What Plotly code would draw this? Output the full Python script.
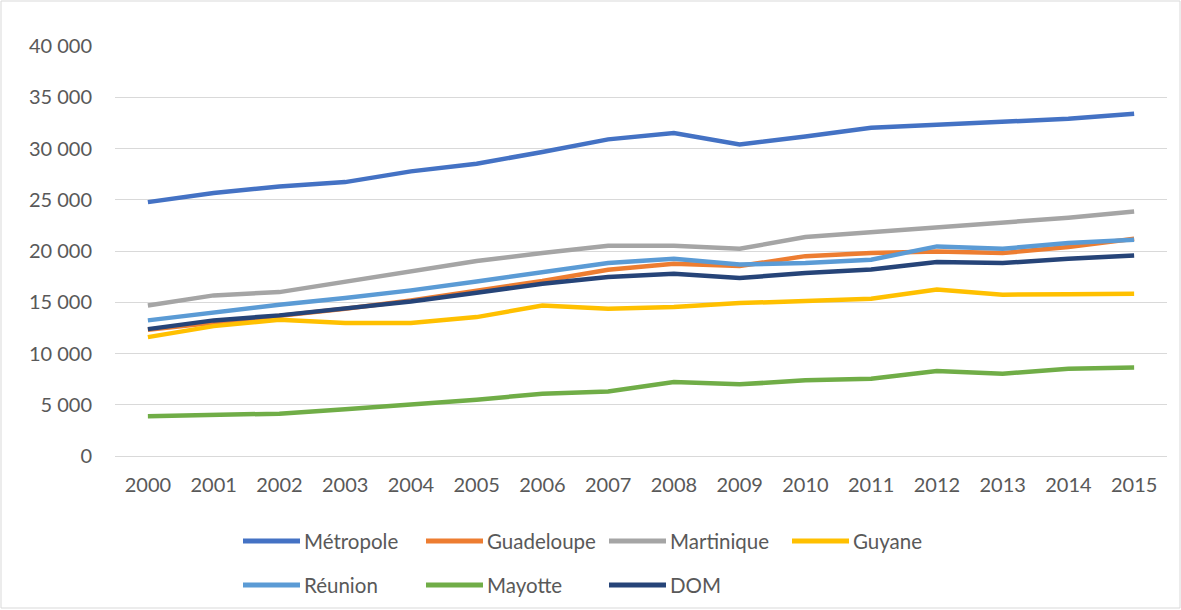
import plotly.graph_objects as go

# Annual series, 2000-2015
years = [str(y) for y in range(2000, 2016)]

metropole = [24770, 25650, 26300, 26720, 27770, 28520, 29650, 30890,
             31500, 30400, 31180, 32030, 32320, 32580, 32900, 33390]
guadeloupe = [12320, 13000, 13720, 14370, 15180, 16160, 17070, 18180,
              18760, 18530, 19500, 19800, 19960, 19800, 20380, 21200]
martinique = [14690, 15670, 15990, 16970, 18010, 19020, 19800, 20510,
              20510, 20220, 21360, 21850, 22240, 22720, 23250, 23860]
guyane = [11600, 12670, 13300, 12970, 12970, 13550, 14690, 14370,
          14530, 14920, 15110, 15350, 16250, 15740, 15770, 15830]
reunion = [13230, 14040, 14760, 15410, 16160, 17030, 17880, 18820,
           19250, 18690, 18820, 19150, 20450, 20220, 20770, 21100]
mayotte = [3890, 4030, 4130, 4550, 5030, 5490, 6080, 6300,
           7210, 6990, 7380, 7540, 8290, 8030, 8520, 8640]
dom = [12380, 13230, 13720, 14370, 15080, 15930, 16810, 17460,
       17780, 17360, 17850, 18200, 18920, 18820, 19250, 19570]

series_names = ["Métropole", "Guadeloupe", "Martinique", "Guyane",
                "Réunion", "Mayotte", "DOM"]
series_values = [metropole, guadeloupe, martinique, guyane,
                 reunion, mayotte, dom]
colors = ["#4472C4", "#ED7D31", "#A5A5A5", "#FFC000",
          "#5B9BD5", "#70AD47", "#264478"]

W, H = 1181, 610
M_L, M_R, M_T, M_B = 115, 14, 46, 154
TEXT = "#595959"
GRID = "#D9D9D9"
FONT = "Lato"
TICK_SIZE = 20
LEGEND_SIZE = 20.5

fig = go.Figure()
for name, vals, col in zip(series_names, series_values, colors):
    fig.add_trace(go.Scatter(
        x=years, y=vals, name=name, mode="lines",
        line=dict(color=col, width=4.5),
        showlegend=False,
    ))

# Legend drawn as short line swatches with labels, two rows of four columns
shapes = []
annotations = []
plot_w = W - M_L - M_R
plot_h = H - M_T - M_B


def px(v):
    return (v - M_L) / plot_w


def py(v):
    return (H - M_B - v) / plot_h


col_x = [243, 426, 609, 792]
row_y = [541, 585]
for k, (name, col) in enumerate(zip(series_names, colors)):
    r, c = divmod(k, 4)
    x0 = col_x[c]
    y = row_y[r]
    shapes.append(dict(type="line", xref="paper", yref="paper",
                       x0=px(x0), x1=px(x0 + 57), y0=py(y), y1=py(y),
                       line=dict(color=col, width=5)))
    annotations.append(dict(xref="paper", yref="paper", x=px(x0 + 59), y=py(y),
                            xanchor="left", yanchor="middle", showarrow=False,
                            text=name,
                            font=dict(family=FONT, size=LEGEND_SIZE, color=TEXT)))

# Chart area border
shapes.append(dict(type="rect", xref="paper", yref="paper",
                   x0=px(1), x1=px(W - 1), y0=py(H - 2), y1=py(1),
                   line=dict(color=GRID, width=1), layer="below"))

fig.update_layout(
    width=W, height=H,
    margin=dict(l=M_L, r=M_R, t=M_T, b=M_B),
    paper_bgcolor="white", plot_bgcolor="white",
    separators=", ",
    font=dict(family=FONT, size=TICK_SIZE, color=TEXT),
    shapes=shapes, annotations=annotations,
    xaxis=dict(
        type="category", range=[-0.5, 15.5],
        showgrid=False, zeroline=False,
        showline=False, ticks="", ticklabelstandoff=15,
        tickfont=dict(family=FONT, size=TICK_SIZE, color=TEXT),
    ),
    yaxis=dict(
        range=[0, 40000], dtick=5000, tickformat=",.0f",
        showgrid=True, gridcolor=GRID, gridwidth=1,
        zeroline=True, zerolinecolor=GRID, zerolinewidth=1,
        showline=False, ticks="", ticklabelstandoff=22,
        tickfont=dict(family=FONT, size=TICK_SIZE, color=TEXT),
    ),
)

fig.write_html("out.html")
